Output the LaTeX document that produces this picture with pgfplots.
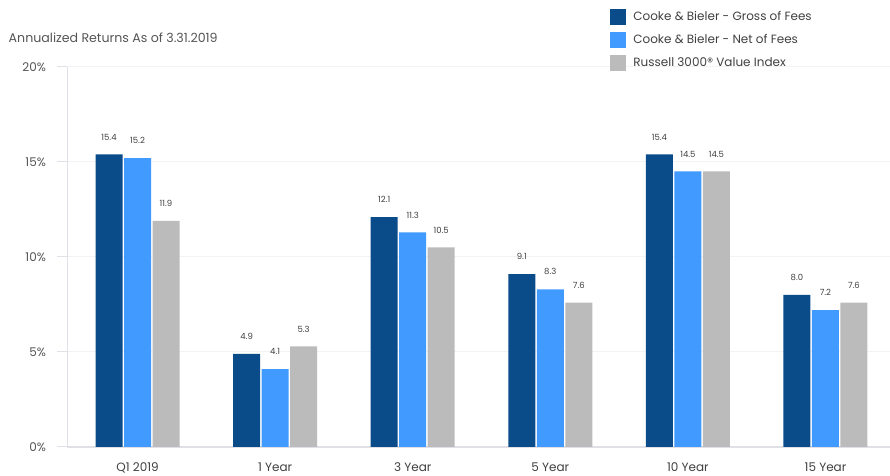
\documentclass[border=0pt]{standalone}
\usepackage{fontspec}
\setmainfont{Poppins}
\usepackage{pgfplots}
\pgfplotsset{compat=1.18}
\usetikzlibrary{calc}

\definecolor{gross}{HTML}{0A4C8A}
\definecolor{net}{HTML}{409AFF}
\definecolor{idx}{HTML}{BBBBBB}
\definecolor{txtgray}{HTML}{555555}
\definecolor{axgray}{HTML}{E0E0E6}
\definecolor{gridgray}{HTML}{F3F3F3}

\begin{document}
\begin{tikzpicture}
\begin{axis}[
    name=main,
    scale only axis,
    width=822.5pt, height=380pt,
    xmin=-0.509, xmax=5.469,
    ymin=0, ymax=20,
    ybar, bar width=27pt,
    /pgf/number format/assume math mode=true,
    xtick={0,1,2,3,4,5},
    xticklabels={Q1 2019, 1 Year, 3 Year, 5 Year, 10 Year, 15 Year},
    x tick label style={font=\fontsize{12}{14}\selectfont, text=black!75, yshift=-2pt},
    xtick style={draw=none},
    ytick={0,5,10,15,20},
    yticklabel={\pgfmathprintnumber{\tick}\%},
    y tick label style={font=\fontsize{12}{14}\selectfont, text=txtgray, xshift=-8pt},
    y tick style={draw=axgray, line width=1pt},
    tick align=outside,
    major tick length=10pt,
    axis lines*=left,
    axis line style={draw=axgray, line width=1.5pt, -},
    ymajorgrids,
    grid style={draw=gridgray, line width=1pt},
    nodes near coords,
    nodes near coords style={font=\fontsize{8.5}{10}\selectfont, text=black!75,
        anchor=south, inner sep=0pt, yshift=14pt,
        /pgf/number format/fixed, /pgf/number format/fixed zerofill,
        /pgf/number format/precision=1},
    legend style={at={(rel axis cs:0.6555,1.158)}, anchor=north west, draw=none, fill=none,
        font=\fontsize{12}{14}\selectfont, text=black!75, row sep=7pt,
        /tikz/column sep=6pt, nodes={inner sep=1.5pt}},
    legend cell align=left,
    legend image code/.code={\draw[#1, draw=none] (0pt,-8pt) rectangle (16pt,8pt);},
]
\addplot[fill=gross, draw=none, bar shift=-28.5pt] coordinates {
    (0,15.4) (1,4.9) (2,12.1) (3,9.1) (4,15.4) (5,8.0)};
\addplot[fill=net, draw=none, bar shift=0pt] coordinates {
    (0,15.2) (1,4.1) (2,11.3) (3,8.3) (4,14.5) (5,7.2)};
\addplot[fill=idx, draw=none, bar shift=28.5pt] coordinates {
    (0,11.9) (1,5.3) (2,10.5) (3,7.6) (4,14.5) (5,7.6)};
\legend{Cooke \& Bieler - Gross of Fees, Cooke \& Bieler - Net of Fees, Russell 3000® Value Index}
\end{axis}
\node[anchor=base west, inner sep=0pt, font=\fontsize{12.6}{14}\selectfont, text=txtgray]
    at ($(main.north west)+(-59pt,24pt)$) {Annualized Returns As of 3.31.2019};
\pgfresetboundingbox
\path ($(main.south west)+(-67.5pt,-29pt)$) rectangle ($(main.north east)+(0pt,67pt)$);
\end{tikzpicture}
\end{document}
